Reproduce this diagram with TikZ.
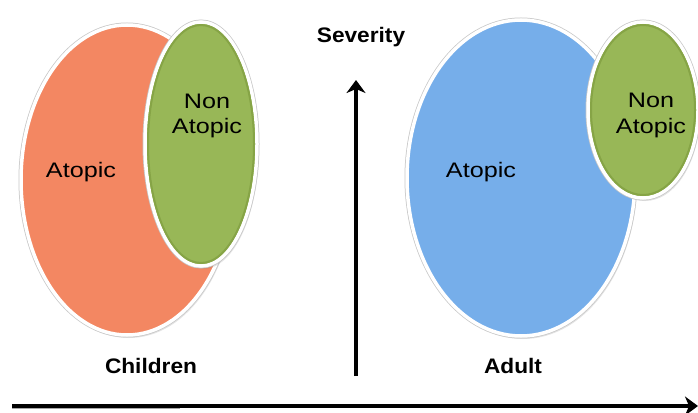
\documentclass[tikz,border=0pt]{standalone}
\usepackage{fontspec}
\setmainfont{Liberation Sans}
\usetikzlibrary{shapes.geometric,arrows.meta,shadows}
\definecolor{orangeA}{HTML}{F38762}
\definecolor{greenA}{HTML}{98B757}
\definecolor{greenD}{HTML}{86A446}
\definecolor{blueA}{HTML}{76AEEA}
\tikzset{
  blob/.style={ellipse, inner sep=0pt, line width=3.5pt, draw=white,
    drop shadow={shadow xshift=2pt, shadow yshift=-3pt, opacity=0.22},
    preaction={draw=black!22, line width=5pt}},
  rim/.style={ellipse, draw=greenD, line width=2pt, inner sep=0pt},
  lbl/.style={font=\fontsize{21}{25}\selectfont, xscale=1.2, align=center, anchor=base},
  blbl/.style={font=\fontsize{21}{25}\selectfont\bfseries, xscale=1.08, anchor=base},
  axis/.style={line width=3.5pt, -{Stealth[length=13pt,width=19pt,inset=4pt]}}
}
\begin{document}
\begin{tikzpicture}[x=1pt,y=-1pt]
\useasboundingbox (0,0) rectangle (698,412);
% Children
\node[blob, fill=orangeA, minimum width=212pt, minimum height=310pt] (orange) at (127,180) {};
\node[blob, fill=greenA, minimum width=112pt, minimum height=244pt] (gchild) at (201,144) {};
\node[rim, minimum width=106pt, minimum height=238pt] (gchildin) at (201,144) {};
% Adult
\node[blob, fill=blueA, minimum width=228pt, minimum height=316pt] (blue) at (521,178) {};
\node[blob, fill=greenA, minimum width=110pt, minimum height=176pt] (gadult) at (643,110) {};
\node[rim, minimum width=104pt, minimum height=170pt] (gadultin) at (643,110) {};
% labels
\node[lbl] (atc) at (81,177) {Atopic};
\node[lbl] (nac1) at (207,108) {Non};
\node[lbl] (nac2) at (207,133) {Atopic};
\node[lbl] (ata) at (481,177) {Atopic};
\node[lbl] (naa1) at (651,107) {Non};
\node[lbl] (naa2) at (651,133) {Atopic};
\node[blbl] (sev) at (361,42) {Severity};
\node[blbl] (chi) at (151,373) {Children};
\node[blbl] (adu) at (513,373) {Adult};
% axes
\coordinate (vb) at (356,376);
\coordinate (vt) at (356,80);
\coordinate (hl) at (12,406);
\coordinate (hr) at (698,406);
\draw[black!35, line width=2pt] (12,408) -- (180,408);
\draw[axis] (vb) -- (vt);
\draw[axis] (hl) -- (hr);
\end{tikzpicture}
\end{document}
